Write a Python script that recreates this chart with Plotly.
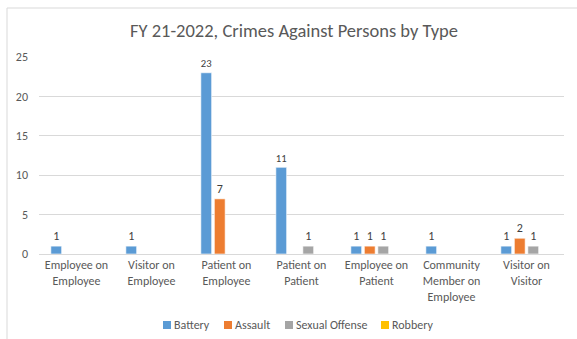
import plotly.graph_objects as go

categories = [
    "Employee on<br>Employee",
    "Visitor on<br>Employee",
    "Patient on<br>Employee",
    "Patient on<br>Patient",
    "Employee on<br>Patient",
    "Community<br>Member on<br>Employee",
    "Visitor on<br>Visitor",
]
battery = [1, 1, 23, 11, 1, 1, 1]
assault = [None, None, 7, None, 1, None, 2]
sexual_offense = [None, None, None, 1, 1, None, 1]
robbery = [None, None, None, None, None, None, None]

series_names = ["Battery", "Assault", "Sexual Offense", "Robbery"]
series_values = [battery, assault, sexual_offense, robbery]
series_colors = ["#5B9BD5", "#ED7D31", "#A5A5A5", "#FFC000"]

FONT = "Calibri, Carlito, Lato, sans-serif"

# plot-area geometry in pixels
W, H = 577, 339
L, R, T, B = 39, 13, 57, 85
PW, PH = W - L - R, H - T - B


def px_x(px):
    return (px - L) / PW


def px_y(py):
    return (H - B - py) / PH


label_font = dict(size=12, color="#404040", family=FONT)

fig = go.Figure()
for name, vals, color in zip(series_names, series_values, series_colors):
    fig.add_trace(go.Bar(
        name=name,
        x=categories,
        y=vals,
        marker=dict(color=color, line=dict(color="white", width=0.6)),
        text=[("" if v is None else str(v)) for v in vals],
        textposition="outside",
        textfont=label_font,
        outsidetextfont=label_font,
        cliponaxis=False,
        showlegend=False,
    ))

# legend row: colour square + label for each series
legend_x = [163, 224, 285, 381]
legend_y = 325
for name, color, lx in zip(series_names, series_colors, legend_x):
    fig.add_shape(type="rect", xref="paper", yref="paper",
                  x0=px_x(lx), x1=px_x(lx + 8), y0=px_y(legend_y + 4), y1=px_y(legend_y - 4),
                  fillcolor=color, line=dict(width=0))
    fig.add_annotation(xref="paper", yref="paper", x=px_x(lx + 9), y=px_y(legend_y),
                       text=name, showarrow=False, xanchor="left", yanchor="middle",
                       font=dict(size=12, color="#595959", family=FONT))

# chart-area border (left and top edges)
fig.add_shape(type="line", xref="paper", yref="paper", x0=px_x(7), x1=px_x(7),
              y0=px_y(345), y1=px_y(8), line=dict(color="#d9d9d9", width=1))
fig.add_shape(type="line", xref="paper", yref="paper", x0=px_x(7), x1=px_x(590),
              y0=px_y(8), y1=px_y(8), line=dict(color="#d9d9d9", width=1))

fig.update_layout(
    width=W, height=H,
    margin=dict(l=L, r=R, t=T, b=B, autoexpand=False),
    paper_bgcolor="white", plot_bgcolor="white",
    barmode="group", bargap=0.28, bargroupgap=0.2,
    font=dict(family=FONT, color="#595959", size=12),
    title=dict(text="FY 21-2022, Crimes Against Persons by Type",
               x=294 / W, xanchor="center", y=1 - 31 / H, yanchor="middle",
               font=dict(size=18.5, color="#595959", family=FONT)),
    showlegend=False,
)
fig.update_yaxes(range=[0, 25], dtick=5, showgrid=True, gridcolor="#d9d9d9", gridwidth=1,
                 zeroline=False, showline=False, ticks="", ticklabelstandoff=10,
                 tickfont=dict(size=12, color="#595959"))
fig.update_xaxes(showline=True, linecolor="#d9d9d9", linewidth=1, ticks="",
                 tickfont=dict(size=12, color="#595959"), tickangle=0, automargin=False)

fig.write_html("out.html")
